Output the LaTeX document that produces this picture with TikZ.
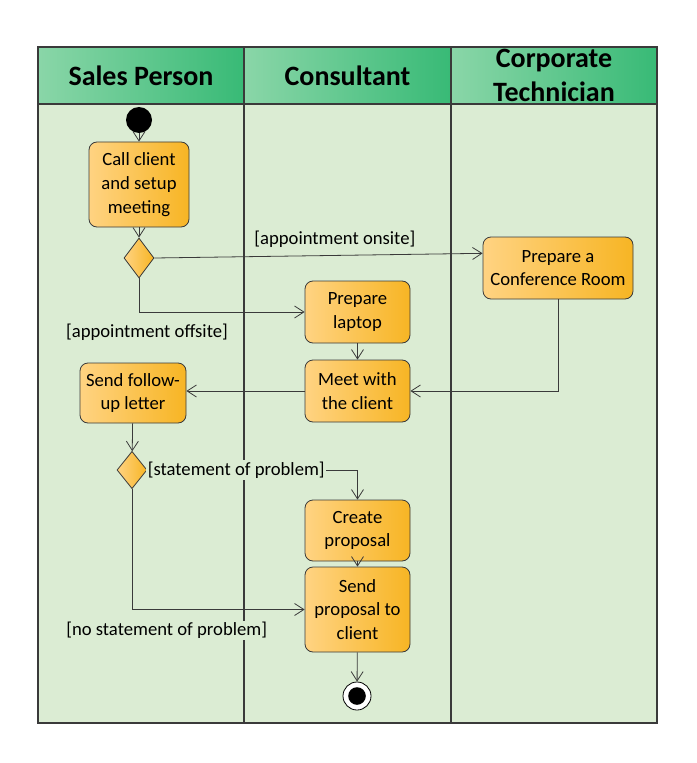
\documentclass[tikz,border=0pt]{standalone}
\usepackage{fontspec}
\setmainfont{Carlito}
\usepackage{tikz}
\usetikzlibrary{shapes.geometric,arrows.meta,positioning,calc}
\definecolor{cBody}{HTML}{DBECD3}
\definecolor{cHeadL}{HTML}{8AD6A8}
\definecolor{cHeadR}{HTML}{38BA76}
\definecolor{cActL}{HTML}{FFD382}
\definecolor{cActR}{HTML}{F7B524}
\definecolor{cLine}{HTML}{3A3A3A}
\tikzset{
  lanehead/.style = {rectangle, draw=cLine, line width=0.8pt, left color=cHeadL, right color=cHeadR,
                     minimum height=42.75pt, align=center, inner sep=0pt,
                     font=\fontsize{21}{25}\selectfont\bfseries},
  act/.style      = {rectangle, rounded corners=6pt, draw=cLine, line width=0.6pt,
                     left color=cActL, right color=cActR, align=center, inner sep=2pt,
                     font=\fontsize{14}{17.8}\selectfont},
  dec/.style      = {diamond, draw=cLine, line width=0.6pt, left color=cActL, right color=cActR,
                     minimum width=22.5pt, minimum height=30pt, inner sep=0pt},
  initnode/.style = {circle, fill=black, minimum size=19.5pt, inner sep=0pt},
  finalnode/.style= {circle, draw=black, line width=0.6pt, fill=white, minimum size=21pt, inner sep=0pt,
                     path picture={\fill[black] (path picture bounding box.center) circle (6.6pt);}},
  flow/.style     = {-{Straight Barb[length=7pt,width=9pt]}, draw=cLine, line width=0.6pt},
  glab/.style     = {fill=cBody, inner sep=1pt, font=\fontsize{14}{16}\selectfont},
}

\begin{document}
\begin{tikzpicture}[x=0.75pt, y=-0.75pt]
  \useasboundingbox (0,0) rectangle (696,763);

  % swimlanes
  \draw[fill=cBody, draw=cLine, line width=0.8pt] (38,104) rectangle (657,723);
  \draw[cLine, line width=0.8pt] (244,104) -- (244,723) (451,104) -- (451,723);
  \node[lanehead, minimum width=154.5pt] (hSales) at (141,75.5)   {Sales Person};
  \node[lanehead, minimum width=155.25pt] (hCons) at (347.5,75.5) {Consultant};
  \node[lanehead, minimum width=154.5pt] (hTech) at (554,75.5)    {Corporate\\[0.5pt]Technician};

  % activities
  \node[initnode] (init) at (139,120) {};
  \node[act, minimum width=75pt, minimum height=63.75pt] (call) at (139,184.5) {Call client\\and setup\\meeting};
  \node[dec] (d1) at (139,258) {};
  \node[act, minimum width=112.5pt, minimum height=46.5pt] (conf) at (558,268) {Prepare a\\Conference Room};
  \node[act, minimum width=78.75pt, minimum height=46.5pt] (lap) at (357.5,312) {Prepare\\laptop};
  \node[act, minimum width=78.75pt, minimum height=46.5pt] (meet) at (357.5,391) {Meet with\\the client};
  \node[act, minimum width=79.5pt, minimum height=45pt] (fol) at (133,393) {Send follow-\\up letter};
  \node[dec, minimum height=28pt] (d2) at (132,470) {};
  \node[act, minimum width=78.75pt, minimum height=45.75pt] (cre) at (357.5,530.5) {Create\\proposal};
  \node[act, minimum width=78.75pt, minimum height=63.75pt] (send) at (357.5,609.5) {Send\\proposal to\\client};
  \node[finalnode] (fin) at (357,696) {};

  % flows
  \draw[flow] (init) -- (call);
  \draw[flow] (call) -- (d1);
  \draw[flow] (d1.east) -- node[glab, above=5pt, pos=0.55] {[appointment onsite]} ([yshift=11pt]conf.west);
  \draw[flow] (d1.south) |- node[glab, below=8pt, xshift=6pt, pos=0.5] {[appointment offsite]} (lap.west);
  \draw[flow] (lap) -- (meet);
  \draw[flow] (conf.south) |- (meet.east);
  \draw[flow] (meet.west) -- (meet.west -| fol.east);
  \draw[flow] (fol) -- (d2);
  \draw[flow] (d2.east) -| node[glab, anchor=west, pos=0, xshift=-1pt] {[statement of problem]} (cre.north);
  \draw[flow] (cre) -- (send);
  \draw[flow] (d2.south) |- node[glab, below=8pt, xshift=26pt, pos=0.5] {[no statement of problem]} (send.west);
  \draw[flow] (send) -- (fin);
\end{tikzpicture}
\end{document}
